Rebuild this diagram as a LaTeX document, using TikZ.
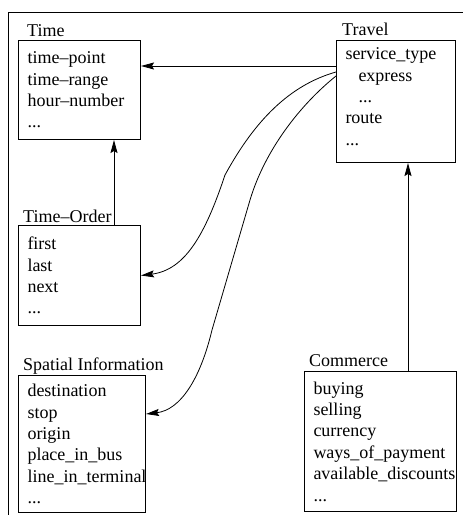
\documentclass[tikz,border=0pt]{standalone}
\usepackage{fontspec}
\setmainfont{Liberation Serif}[Ligatures=TeX]
\newfontfamily\boxfont{Liberation Serif}[Ligatures=TeX]
\usetikzlibrary{arrows.meta}

\tikzset{
  box/.style={draw, line width=1pt, anchor=north west, align=left, inner xsep=9pt, inner ysep=0pt,
    font=\boxfont\fontsize{18}{21.4}\selectfont},
  head/.style={anchor=base west, inner sep=0pt, font=\boxfont\fontsize{18}{21.4}\selectfont},
  link/.style={line width=0.8pt, -{Stealth[length=13pt,width=7pt,inset=2pt]}},
}

\begin{document}
\begin{tikzpicture}[x=1pt, y=-1pt]
\useasboundingbox (0,0) rectangle (463,515);
% outer frame
\draw[line width=0.9pt] (8,530) -- (8,12) -- (480,12);

% boxes
\node[box, text width=104pt, minimum height=99pt] (time) at (18,40)
  {time--point\\time--range\\hour--number\\...};
\node[box, text width=101pt, minimum height=122pt] (travel) at (336,40)
  {service\_type\\\hspace*{13pt}express\\\hspace*{13pt}...\\route\\...\rule[-10pt]{0pt}{10pt}};
\node[box, text width=104pt, minimum height=100pt] (torder) at (18,225)
  {first\\last\\next\\...};
\node[box, text width=109pt, minimum height=137pt] (spatial) at (18,375)
  {destination\\stop\\origin\\place\_in\_bus\\line\_in\_terminal\\...};
\node[box, text width=134pt, minimum height=140pt] (commerce) at (304,371)
  {buying\\selling\\currency\\ways\_of\_payment\\available\_discounts\\...};

% titles
\node[head] (timehead) at ([shift={(9pt,4pt)}]time.north west) {Time};
\node[head] (travelhead) at ([shift={(6pt,5pt)}]travel.north west) {Travel};
\node[head] (torderhead) at ([shift={(5pt,3pt)}]torder.north west) {Time--Order};
\node[head] (spatialhead) at ([shift={(5pt,5pt)}]spatial.north west) {Spatial Information};
\node[head] (commercehead) at ([shift={(5pt,5pt)}]commerce.north west) {Commerce};

% links
\coordinate (tv1) at ([yshift=-26pt]travel.north west);
\coordinate (tv2) at ([yshift=-32pt]travel.north west);
\coordinate (tv3) at ([yshift=-36pt]travel.north west);
\coordinate (tup) at ([xshift=-27pt]torder.north east);
\coordinate (cup) at ([xshift=104pt]commerce.north west);
\coordinate (sin) at ([yshift=30pt]spatial.east);

\draw[link] (tv1) -- (tv1 -| time.east);
\draw[link] (tup) -- (tup |- time.south);
\draw[link] (cup) -- (cup |- travel.south);
\draw[link] (tv2) .. controls (290,85) and (255,120) .. (225,175)
  .. controls (205,235) and (185,270) .. (torder.east);
\draw[link] (tv3) .. controls (300,105) and (265,150) .. (250,200) -- (212,330)
  .. controls (200,380) and (180,410) .. (sin);
\end{tikzpicture}
\end{document}
